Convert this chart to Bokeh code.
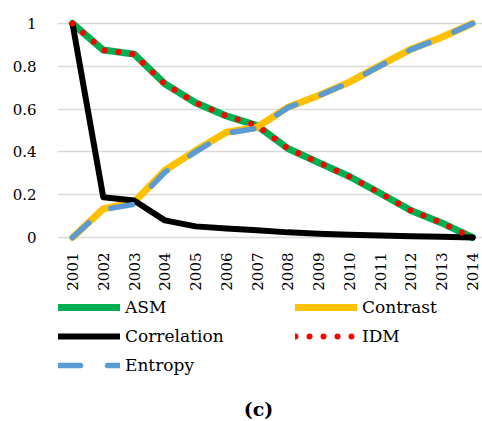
from bokeh.plotting import figure
from bokeh.models import Range1d, FixedTicker, Legend, LegendItem, Label
from bokeh.layouts import column
from bokeh.embed import file_html
from bokeh.resources import INLINE
import math

years = [2001, 2002, 2003, 2004, 2005, 2006, 2007, 2008, 2009, 2010, 2011, 2012, 2013, 2014]
asm = [1.0, 0.876, 0.857, 0.718, 0.630, 0.568, 0.523, 0.416, 0.350, 0.285, 0.207, 0.126, 0.068, 0.0]
contrast = [0.0, 0.134, 0.165, 0.313, 0.406, 0.492, 0.515, 0.609, 0.664, 0.726, 0.804, 0.880, 0.936, 1.0]
correlation = [1.0, 0.188, 0.173, 0.080, 0.052, 0.042, 0.034, 0.024, 0.018, 0.013, 0.009, 0.006, 0.003, 0.0]
idm = [1.0, 0.876, 0.857, 0.718, 0.630, 0.568, 0.523, 0.416, 0.350, 0.285, 0.207, 0.126, 0.068, 0.0]
entropy = [0.0, 0.130, 0.155, 0.305, 0.400, 0.488, 0.510, 0.607, 0.662, 0.724, 0.802, 0.878, 0.934, 1.0]
y_ticks = [0, 0.2, 0.4, 0.6, 0.8, 1.0]
y_tick_labels = {0: "0", 0.2: "0.2", 0.4: "0.4", 0.6: "0.6", 0.8: "0.8", 1.0: "1"}
caption = "(c)"

FONT = "DejaVu Serif"

STY = {
    "ASM": dict(line_color="#00B050", line_width=7, line_join="round", line_cap="round"),
    "Contrast": dict(line_color="#FFC000", line_width=7, line_join="round", line_cap="round"),
    "Correlation": dict(line_color="#000000", line_width=6, line_join="round", line_cap="round"),
    "IDM": dict(line_color="#FF0000", line_width=6, line_dash="0 14", line_cap="round"),
    "Entropy": dict(line_color="#5B9BD5", line_width=5.5, line_dash="22 27", line_cap="round"),
}

LEFT = 57
FW = 425

# ---- chart ----
p = figure(frame_width=FW, frame_height=226, output_backend="svg", toolbar_location=None,
           x_range=Range1d(2001 - 15 / 30.77, 2014 + 10 / 30.77), y_range=Range1d(-0.028, 1.028),
           min_border_left=LEFT, min_border_right=0, min_border_top=17, min_border_bottom=50)
p.outline_line_color = None
p.background_fill_color = "white"
p.border_fill_color = "white"

p.xgrid.visible = False
p.ygrid.ticker = FixedTicker(ticks=y_ticks)
p.ygrid.grid_line_color = "#D9D9D9"
p.ygrid.grid_line_width = 1.5

p.yaxis.ticker = FixedTicker(ticks=y_ticks)
p.yaxis.major_label_overrides = y_tick_labels
p.yaxis.axis_line_color = None
p.yaxis.major_tick_line_color = None
p.yaxis.minor_tick_line_color = None
p.yaxis.major_tick_out = 0
p.yaxis.major_label_standoff = 21
p.yaxis.major_label_text_font = FONT
p.yaxis.major_label_text_font_size = "15px"
p.yaxis.major_label_text_color = "#000000"

p.xaxis.ticker = FixedTicker(ticks=years)
p.xaxis.axis_line_color = None
p.xaxis.major_tick_line_color = None
p.xaxis.minor_tick_line_color = None
p.xaxis.major_tick_out = 0
p.xaxis.major_label_standoff = 9
p.xaxis.major_label_orientation = math.pi / 2
p.xaxis.major_label_text_font = FONT
p.xaxis.major_label_text_font_size = "15px"
p.xaxis.major_label_text_color = "#000000"

p.line(years, asm, **STY["ASM"])
p.line(years, contrast, **STY["Contrast"])
p.line(years, correlation, **STY["Correlation"])
p.line(years, idm, **STY["IDM"])
p.line(years, entropy, **STY["Entropy"])

# ---- legend + caption panel ----
q = figure(frame_width=FW, frame_height=128, output_backend="svg", toolbar_location=None,
           x_range=Range1d(0, 1), y_range=Range1d(0, 1),
           min_border_left=LEFT, min_border_right=0, min_border_top=0, min_border_bottom=0)
q.axis.visible = False
q.grid.visible = False
q.outline_line_color = None
q.background_fill_color = "white"
q.border_fill_color = "white"

# legend proxies, placed outside the visible range
rend = {k: q.line([-5, -4], [-5, -4], **v) for k, v in STY.items()}

def make_legend(names, x, y):
    return Legend(items=[LegendItem(label=n, renderers=[rend[n]]) for n in names],
                  location=(x, y), orientation="vertical",
                  border_line_color=None, background_fill_alpha=0, padding=0, margin=0,
                  spacing=9, glyph_width=62, glyph_height=20, label_height=20,
                  label_standoff=5, label_text_font=FONT, label_text_font_size="17px",
                  label_text_color="#000000", label_text_baseline="middle")

q.add_layout(make_legend(["ASM", "Correlation", "Entropy"], 58 - LEFT, 46), "center")
q.add_layout(make_legend(["Contrast", "IDM"], 295 - LEFT, 75), "center")

q.add_layout(Label(x=258 - LEFT, y=13, x_units="screen", y_units="screen", text=caption,
                   text_font=FONT, text_font_size="19px", text_font_style="bold",
                   text_align="center", text_baseline="middle", text_color="#000000"), "center")

open("out.html", "w").write(file_html(column(p, q, spacing=0), INLINE))
